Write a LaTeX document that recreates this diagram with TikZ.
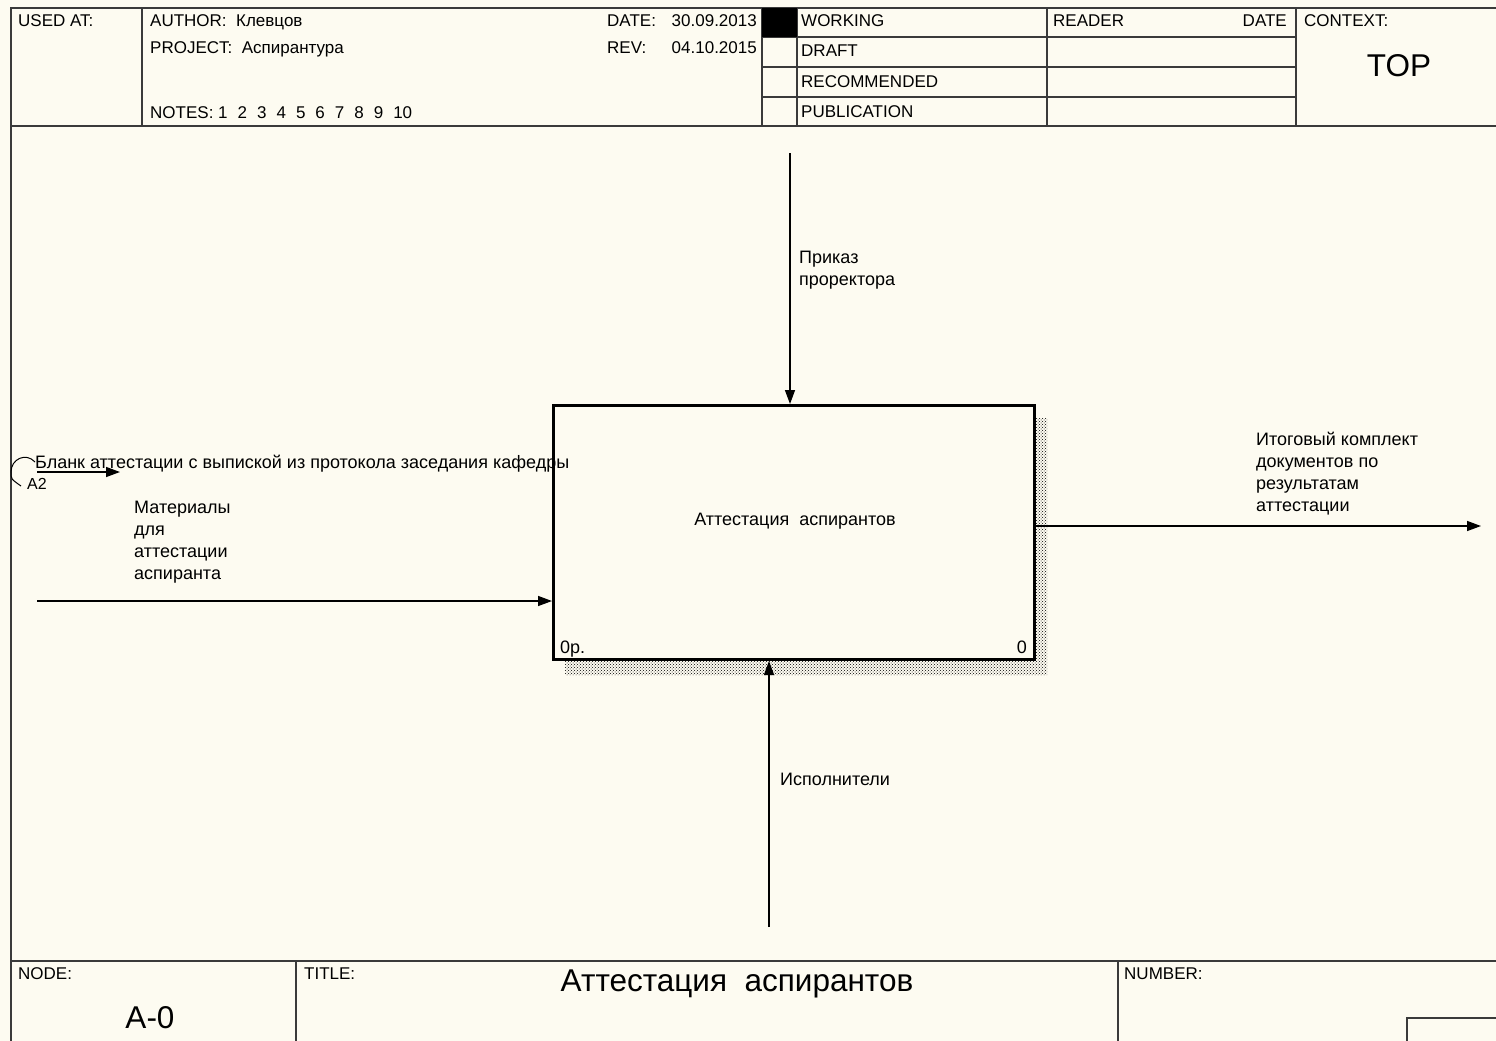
\documentclass[tikz,border=0pt]{standalone}
\usepackage{fontspec}
\setmainfont{Liberation Sans}
\usetikzlibrary{arrows.meta,patterns}
\definecolor{paper}{HTML}{FDFBF1}
\definecolor{frame}{HTML}{3A3A3A}
\tikzset{
  every picture/.style={line join=miter, >={Triangle[length=14pt,width=10pt]}},
  txt/.style={anchor=base west, inner sep=0pt, align=left, font=\fontsize{17}{21.5}\selectfont},
  rtxt/.style={txt, anchor=base east},
  dtxt/.style={txt, font=\fontsize{18}{21.8}\selectfont},
  big/.style={anchor=base, inner sep=0pt, font=\fontsize{31.5}{36}\selectfont},
  rule/.style={draw=frame, line width=1.4pt},
  flow/.style={draw=black, line width=1.4pt, ->},
  shadow/.style={pattern=crosshatch dots, pattern color=black},
}
\newcommand{\gap}{\hspace{10pt}}

\begin{document}
\begin{tikzpicture}[x=1pt,y=-1pt]
\fill[paper] (0,0) rectangle (1496,1041);
\useasboundingbox (0,0) rectangle (1496,1041);
% frame and header
\draw[rule] (1496,8) -- (11,8) -- (11,1041);
\draw[rule] (11,126) -- (1496,126);
\draw[rule] (142,8) -- (142,126) (762,8) -- (762,126) (797,8) -- (797,126)
  (1047,8) -- (1047,126) (1296,8) -- (1296,126);
\draw[rule] (762,37) -- (1296,37) (762,67) -- (1296,67) (762,97) -- (1296,97);
\fill[black] (762,8) rectangle (797,37);
\node[txt] (usedat) at (18,27) {USED AT:};
\node[txt] (author) at (150,27) {AUTHOR:\ \ Клевцов};
\node[txt] (project) at (150,54) {PROJECT:\ \ Аспирантура};
\node[txt] (notes) at (150,118) {NOTES:\ 1\gap2\gap3\gap4\gap5\gap6\gap7\gap8\gap9\gap10};
\node[txt] (datekey) at (607,27) {DATE:};
\node[rtxt] (dateval) at (757,27) {30.09.2013};
\node[txt] (revkey) at (607,54) {REV:};
\node[rtxt] (revval) at (757,54) {04.10.2015};
\node[txt] (working) at (801,27) {WORKING};
\node[txt] (draft) at (801,57) {DRAFT};
\node[txt] (recommended) at (801,87) {RECOMMENDED};
\node[txt] (publication) at (801,117) {PUBLICATION};
\node[txt] (reader) at (1053,27) {READER};
\node[rtxt] (readerdate) at (1287,27) {DATE};
\node[txt] (context) at (1304,27) {CONTEXT:};
\node[big] (top) at (1399,77) {TOP};
% footer
\draw[rule] (11,961) -- (1496,961) (296,961) -- (296,1041) (1118,961) -- (1118,1041)
  (1407,1041) -- (1407,1018) -- (1496,1018);
\node[txt] (nodekey) at (18,979) {NODE:};
\node[big] (nodeval) at (150,1028) {A-0};
\node[txt] (titlekey) at (304,979) {TITLE:};
\node[big] (titleval) at (737,991) {Аттестация\ \ аспирантов};
\node[txt] (numberkey) at (1124,979) {NUMBER:};
% activity
\fill[shadow] (1033,418) rectangle (1047,675) (565,659) rectangle (1033,675);
\node[draw, fill=paper, line width=3pt, minimum width=481pt, minimum height=254pt, anchor=north west] (act) at (552,404) {};
\node[dtxt, anchor=base] (actname) at (795,525) {Аттестация\ \ аспирантов};
\node[dtxt] (actcost) at (560,653) {0р.};
\node[dtxt, anchor=base east] (actnum) at (1027,653) {0};
% arrows
\coordinate (ctl) at (790,153);
\coordinate (mech) at (769,927);
\coordinate (inp) at (37,601);
\coordinate (outp) at (1481,526);
\coordinate (tun) at (37,472);
\coordinate (tunend) at (120,472);
\draw[flow] (ctl) -- (ctl |- act.north);
\draw[flow] (mech) -- (mech |- act.south);
\draw[flow] (inp) -- (inp -| act.west);
\draw[flow] (act.east |- outp) -- (outp);
\draw[flow] (tun) -- (tunend);
\draw[line width=1pt] (35,462) .. controls (26,452) and (11,459) .. (11,472) .. controls (11,479) .. (21,486);
\node[dtxt] (ctllbl) at (799,285) {Приказ\\проректора};
\node[dtxt] (mechlbl) at (780,785) {Исполнители};
\node[dtxt] (tunlbl) at (35,468) {Бланк аттестации с выпиской из протокола заседания кафедры};
\node[txt, font=\fontsize{16}{18}\selectfont] (tunref) at (27,489) {A2};
\node[dtxt] (inplbl) at (134,579) {Материалы\\для\\аттестации\\аспиранта};
\node[dtxt] (outlbl) at (1256,511) {Итоговый комплект\\документов по\\результатам\\аттестации};
\end{tikzpicture}
\end{document}
